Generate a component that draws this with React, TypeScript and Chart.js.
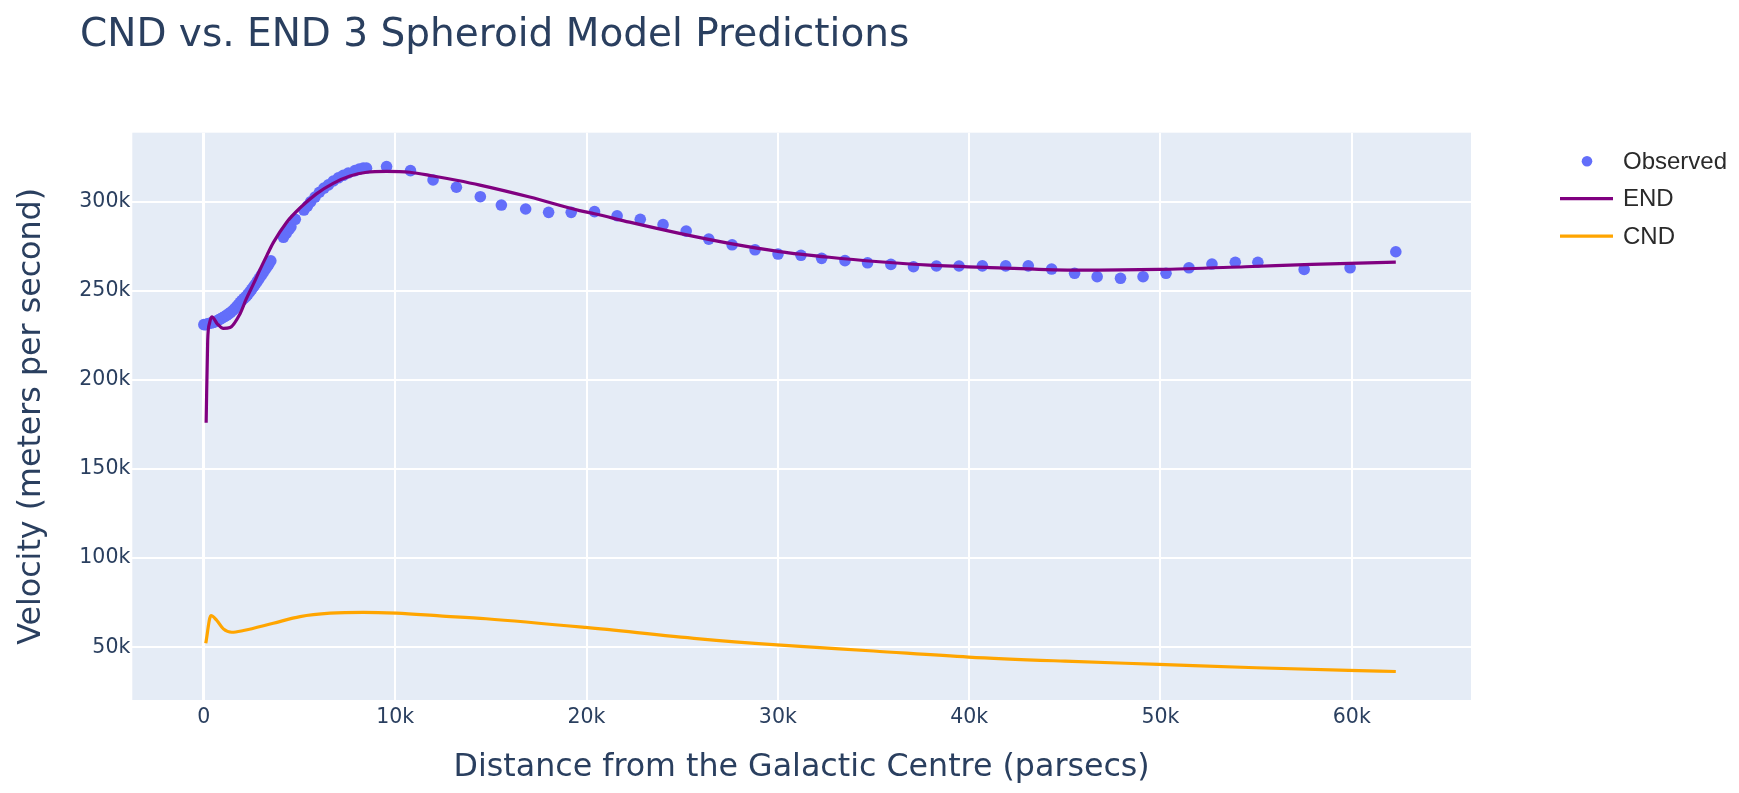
import React, { useEffect, useRef } from "react";
import { Chart, registerables } from "chart.js";

Chart.register(...registerables);

// ---------- data (distance in parsecs, velocity in m/s) ----------
const obsDistance = [
  0, 100, 200, 300, 400, 500, 600, 700, 800, 900, 1000, 1100, 1200, 1300, 1400, 1500,
  1600, 1700, 1800, 1900, 2000, 2100, 2200, 2300, 2400, 2500, 2600, 2700, 2800, 2900,
  3000, 3100, 3200, 3300, 3400, 3500, 4160, 4300, 4440, 4550, 4780, 5230, 5410, 5580,
  5810, 6040, 6280, 6510, 6770, 7030, 7290, 7550, 7900, 8120, 8330, 8500, 9550, 10800,
  11980, 13200, 14450, 15550, 16820, 18020, 19200, 20420, 21600, 22810, 24000, 25210,
  26390, 27610, 28810, 30010, 31210, 32290, 33510, 34690, 35910, 37090, 38290, 39470,
  40690, 41910, 43090, 44310, 45510, 46690, 47910, 49090, 50290, 51490, 52690, 53910,
  55090, 57510, 59910, 62300,
];
const obsVelocity = [
  231000, 231000, 231500, 231800, 232000, 232300, 232700, 233200, 233800, 234400, 235000,
  235700, 236400, 237100, 237900, 238800, 239900, 241000, 242200, 243500, 244700, 245800,
  246700, 248000, 249400, 250800, 252300, 253800, 255400, 257000, 258600, 260200, 261800,
  263400, 265000, 266800, 280000, 282200, 284300, 285900, 290100, 295300, 297500, 299900,
  302600, 305300, 307600, 309400, 311600, 313400, 314800, 316100, 317400, 318300, 318800,
  318800, 319700, 317400, 312200, 308100, 302800, 298100, 295900, 294000, 294000, 294400,
  292100, 290100, 287100, 283500, 279000, 275800, 273000, 270600, 269900, 268200, 266900,
  265700, 264800, 263500, 263900, 263900, 264000, 264000, 264000, 262200, 259800, 257900,
  257000, 257900, 259800, 262900, 265000, 266000, 266000, 262000, 262900, 271900,
];

const endDistance = [
  120, 200, 300, 420, 700, 1020, 1370, 1900, 2200, 2600, 2940, 3300, 3630, 4330, 5030,
  5900, 6760, 7640, 8510, 9550, 10770, 11980, 13200, 14430, 17030, 19640, 20420, 22250,
  24860, 27470, 30080, 32690, 35300, 37910, 41560, 45700, 49900, 54440, 57910, 62300,
];
const endVelocity = [
  176000, 222000, 232000, 235400, 231500, 228900, 229400, 237300, 245000, 254000, 262000,
  270000, 277000, 288500, 296500, 304500, 310300, 314400, 316500, 317000, 316500, 314400,
  312000, 309300, 302600, 295000, 293200, 288500, 282200, 276600, 272000, 268800, 266300,
  264400, 262900, 261600, 262000, 263500, 264800, 266100,
];

const cndDistance = [
  100, 370, 680, 1020, 1460, 2070, 3630, 5030, 6600, 8330, 10070, 12330, 14750, 19950,
  25900, 29950, 35000, 39970, 45000, 49900, 55000, 59830, 62300,
];
const cndVelocity = [
  52200, 67800, 65000, 60300, 58400, 59400, 63500, 67200, 69100, 69600, 69100, 67600,
  66000, 61100, 54700, 51300, 47900, 44500, 42200, 40400, 38500, 37000, 36400,
];

const xTickValues = [0, 10000, 20000, 30000, 40000, 50000, 60000];
const yTickValues = [50000, 100000, 150000, 200000, 250000, 300000];

const TITLE = "CND vs. END 3 Spheroid Model Predictions";
const X_TITLE = "Distance from the Galactic Centre (parsecs)";
const Y_TITLE = "Velocity (meters per second)";
const SERIES_NAMES = ["Observed", "END", "CND"];

const COLOR_OBS = "#636efa";
const COLOR_END = "#800080";
const COLOR_CND = "#FFA500";
const TEXT_COLOR = "#2a3f5f";
const LEGEND_TEXT = "#2a2a2a";
const FONT = "'DejaVu Sans', Verdana, sans-serif";

const W = 1739;
const H = 793;

function pts(xs: number[], ys: number[]) {
  return xs.map((x, i) => ({ x, y: ys[i] }));
}

const decorPlugin = {
  id: "decor",
  beforeDraw(chart: any) {
    const { ctx, chartArea: a } = chart;
    ctx.save();
    ctx.fillStyle = "#ffffff";
    ctx.fillRect(0, 0, chart.width, chart.height);
    ctx.fillStyle = "#E5ECF6";
    ctx.fillRect(a.left, a.top, a.right - a.left, a.bottom - a.top);
    ctx.restore();
  },
  afterDraw(chart: any) {
    const { ctx, chartArea: a } = chart;
    ctx.save();
    // main title
    ctx.fillStyle = TEXT_COLOR;
    ctx.font = `39px ${FONT}`;
    ctx.textAlign = "left";
    ctx.textBaseline = "alphabetic";
    ctx.fillText(TITLE, 80, 45.5);

    // legend
    const lx = a.right;
    const rows = [a.top + 28.5, a.top + 66, a.top + 103.5];
    ctx.font = "24px 'Liberation Sans', Arial, sans-serif";
    ctx.textBaseline = "middle";
    // observed marker
    ctx.beginPath();
    ctx.fillStyle = COLOR_OBS;
    ctx.arc(lx + 116, rows[0], 5.3, 0, Math.PI * 2);
    ctx.fill();
    // END line
    ctx.lineWidth = 3.2;
    ctx.strokeStyle = COLOR_END;
    ctx.beginPath();
    ctx.moveTo(lx + 89, rows[1]);
    ctx.lineTo(lx + 142, rows[1]);
    ctx.stroke();
    // CND line
    ctx.strokeStyle = COLOR_CND;
    ctx.beginPath();
    ctx.moveTo(lx + 89, rows[2]);
    ctx.lineTo(lx + 142, rows[2]);
    ctx.stroke();
    ctx.fillStyle = LEGEND_TEXT;
    SERIES_NAMES.forEach((name, i) => {
      ctx.fillText(name, lx + 152, rows[i] + 1);
    });
    ctx.restore();
  },
};

function fmtK(v: number) {
  return v === 0 ? "0" : `${v / 1000}k`;
}

export default function App() {
  const ref = useRef<HTMLCanvasElement | null>(null);

  useEffect(() => {
    if (!ref.current) return;
    const chart = new Chart(ref.current, {
      type: "scatter",
      data: {
        datasets: [
          {
            label: SERIES_NAMES[0],
            data: pts(obsDistance, obsVelocity),
            showLine: false,
            pointRadius: 5.8,
            pointHoverRadius: 5.8,
            pointBorderWidth: 0,
            backgroundColor: COLOR_OBS,
            borderColor: COLOR_OBS,
            order: 2,
          },
          {
            label: SERIES_NAMES[1],
            data: pts(endDistance, endVelocity),
            showLine: true,
            pointRadius: 0,
            borderWidth: 3.2,
            borderColor: COLOR_END,
            backgroundColor: COLOR_END,
            cubicInterpolationMode: "monotone",
            borderJoinStyle: "round",
            order: 0,
          },
          {
            label: SERIES_NAMES[2],
            data: pts(cndDistance, cndVelocity),
            showLine: true,
            pointRadius: 0,
            borderWidth: 3.2,
            borderColor: COLOR_CND,
            backgroundColor: COLOR_CND,
            cubicInterpolationMode: "monotone",
            borderJoinStyle: "round",
            order: 1,
          },
        ],
      },
      options: {
        responsive: false,
        animation: false,
        devicePixelRatio: 1,
        layout: { padding: { left: 0, top: 132.7, right: 268, bottom: 0 } },
        plugins: {
          legend: { display: false },
          tooltip: { enabled: false },
          title: { display: false },
        },
        scales: {
          x: {
            type: "linear",
            min: -3740,
            max: 66230,
            afterBuildTicks: (scale: any) => {
              scale.ticks = xTickValues.map((v) => ({ value: v }));
            },
            afterFit: (scale: any) => {
              scale.height = 93;
            },
            grid: {
              color: "#ffffff",
              lineWidth: (c: any) => (c.tick && c.tick.value === 0 ? 3 : 2),
              drawTicks: false,
            },
            border: { display: false },
            ticks: {
              callback: (v: any) => fmtK(Number(v)),
              color: TEXT_COLOR,
              font: { family: FONT, size: 20.5 },
              padding: 5,
              maxRotation: 0,
              autoSkip: false,
            },
            title: {
              display: true,
              text: X_TITLE,
              color: TEXT_COLOR,
              font: { family: FONT, size: 31.7, lineHeight: 1.2 },
              padding: { top: 6, bottom: 6 },
            },
          },
          y: {
            type: "linear",
            min: 20400,
            max: 338700,
            afterBuildTicks: (scale: any) => {
              scale.ticks = yTickValues.map((v) => ({ value: v }));
            },
            afterFit: (scale: any) => {
              scale.width = 132.3;
            },
            grid: {
              color: "#ffffff",
              lineWidth: 2,
              drawTicks: false,
            },
            border: { display: false },
            ticks: {
              callback: (v: any) => fmtK(Number(v)),
              color: TEXT_COLOR,
              font: { family: FONT, size: 20.5 },
              padding: 2,
              autoSkip: false,
            },
            title: {
              display: true,
              text: Y_TITLE,
              color: TEXT_COLOR,
              font: { family: FONT, size: 31.7, lineHeight: 1.2 },
              padding: { top: 13, bottom: 13 },
            },
          },
        },
      },
      plugins: [decorPlugin],
    } as any);
    return () => chart.destroy();
  }, []);

  return (
    <div style={{ position: "fixed", left: 0, top: 0, width: W, height: H, background: "#fff" }}>
      <canvas ref={ref} width={W} height={H} style={{ display: "block", width: W, height: H }} />
    </div>
  );
}
